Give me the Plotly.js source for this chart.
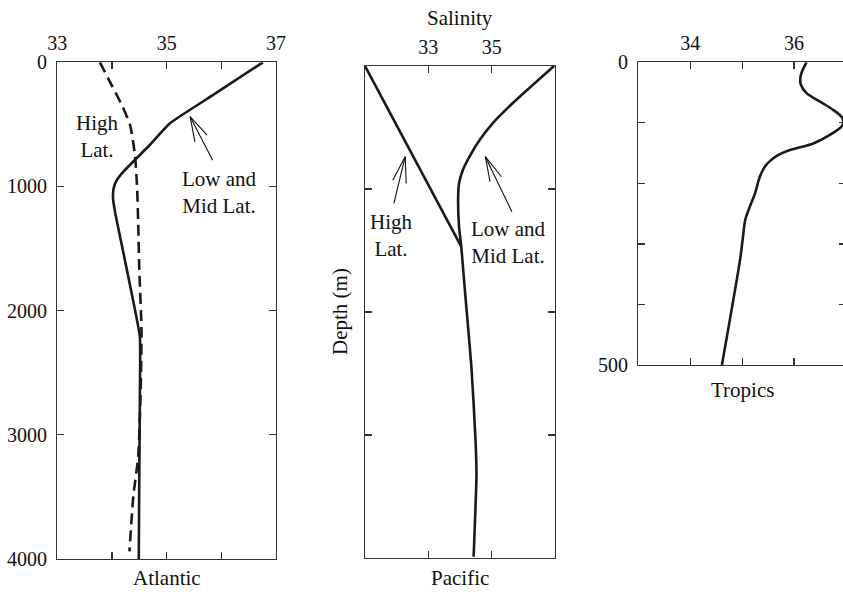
<!DOCTYPE html>
<html><head><meta charset="utf-8">
<script src="https://cdn.plot.ly/plotly-3.0.1.min.js"></script>
<style>html,body{margin:0;padding:0;overflow:hidden;background:#fff}#chart{width:850px;height:592px}</style>
</head><body><div id="chart"></div>
<script>
// Atlantic, low and mid latitudes (solid)
const atlLowDepth = [0, 263, 491, 666, 880, 947, 1014, 1100, 1215, 1430, 1859, 2208, 2718, 3300, 4000];
const atlLowSal   = [36.76, 35.85, 35.06, 34.69, 34.21, 34.09, 34.03, 34.02, 34.06, 34.16, 34.36, 34.51, 34.51, 34.50, 34.49];
// Atlantic, high latitudes (dashed)
const atlHighDepth = [0, 156, 344, 505, 746, 1014, 1300, 1672, 2155, 2718, 3174, 3496, 3939];
const atlHighSal   = [33.78, 33.96, 34.18, 34.33, 34.42, 34.46, 34.48, 34.50, 34.54, 34.52, 34.48, 34.39, 34.32];
// Pacific, high latitudes
const pacHighDepth = [0, 1469];
const pacHighSal   = [31.0, 34.04];
// Pacific, low and mid latitudes
const pacLowDepth = [0, 303, 466, 602, 737, 846, 954, 1089, 1306, 1469, 1902, 2445, 3041, 3312, 3990];
const pacLowSal   = [36.97, 35.66, 35.03, 34.62, 34.30, 34.09, 33.97, 33.94, 33.97, 34.04, 34.18, 34.36, 34.49, 34.52, 34.43];
// Tropics
const tropDepth = [0, 21, 37, 51, 65, 79, 92, 104, 120, 134, 145, 153, 162, 172, 189, 216, 238, 260, 293, 326, 500];
const tropSal   = [36.24, 36.13, 36.13, 36.24, 36.50, 36.76, 36.93, 36.93, 36.69, 36.37, 35.92, 35.70, 35.55, 35.44, 35.34, 35.25, 35.15, 35.06, 35.01, 34.96, 34.61];

// tick labels
const atlXTicks = [33, 34, 35, 36, 37];
const atlXText  = ['33', '', '35', '', '37'];
const atlYTicks = [0, 1000, 2000, 3000, 4000];
const atlYText  = ['0', '1000', '2000', '3000', '4000'];
const pacXTicks = [33, 35];
const pacXText  = ['33', '35'];
const pacYTicks = [1000, 2000, 3000];
const tropXTicks = [34, 35, 36];
const tropXText  = ['34', '', '36'];
const tropYTicks = [0, 100, 200, 300, 400, 500];
const tropYText  = ['0', '', '', '', '', '500'];

const FONT = '"Liberation Serif", "DejaVu Serif", serif';
const lineStyle = {color: '#1a1a1a', width: 2.6, shape: 'spline', smoothing: 0.6};

const traces = [
  {x: atlLowSal, y: atlLowDepth, xaxis: 'x', yaxis: 'y', mode: 'lines', line: Object.assign({}, lineStyle, {smoothing: 0.4})},
  {x: atlHighSal, y: atlHighDepth, xaxis: 'x', yaxis: 'y', mode: 'lines', line: Object.assign({}, lineStyle, {dash: '11px,6px'})},
  {x: pacHighSal, y: pacHighDepth, xaxis: 'x2', yaxis: 'y2', mode: 'lines', line: Object.assign({}, lineStyle, {shape: 'linear'})},
  {x: pacLowSal, y: pacLowDepth, xaxis: 'x2', yaxis: 'y2', mode: 'lines', line: lineStyle},
  {x: tropSal, y: tropDepth, xaxis: 'x3', yaxis: 'y3', mode: 'lines', line: Object.assign({}, lineStyle, {smoothing: 0.9})}
];

const W = 850, H = 592;
const axBase = {
  showgrid: false, zeroline: false, showline: true, mirror: 'ticks',
  linecolor: '#333', linewidth: 1.2, ticks: 'inside', ticklen: 7, tickwidth: 1.2, tickcolor: '#333',
  tickfont: {family: FONT, size: 20, color: '#111'}, tickmode: 'array', fixedrange: true
};
function ax(o) { return Object.assign({}, axBase, o); }

const layout = {
  width: W, height: H, margin: {l: 0, r: 0, t: 0, b: 0},
  paper_bgcolor: '#fff', plot_bgcolor: '#fff', showlegend: false,
  font: {family: FONT, size: 20, color: '#111'},
  xaxis: ax({domain: [57.3/W, 276/W], range: [33, 37], side: 'top', tickvals: atlXTicks, ticktext: atlXText, anchor: 'y', ticklabelstandoff: 3}),
  yaxis: ax({domain: [1-559/H, 1-62.3/H], range: [4000, 0], tickvals: atlYTicks, ticktext: atlYText, anchor: 'x', ticklabelstandoff: 5}),
  xaxis2: ax({domain: [365/W, 555/W], range: [31, 37], side: 'top', tickvals: pacXTicks, ticktext: pacXText, anchor: 'y2', ticklabelstandoff: 3}),
  yaxis2: ax({domain: [1-558/H, 1-66/H], range: [4000, 0], tickvals: pacYTicks, showticklabels: false, anchor: 'x2'}),
  xaxis3: ax({domain: [638.3/W, 846/W], range: [33, 37], side: 'top', tickvals: tropXTicks, ticktext: tropXText, anchor: 'y3', ticklabelstandoff: 3}),
  yaxis3: ax({domain: [1-365/H, 1-62.3/H], range: [500, 0], tickvals: tropYTicks, ticktext: tropYText, anchor: 'x3', ticklabelstandoff: 5}),
  annotations: []
};

const A = layout.annotations;
function txt(xref, yref, x, y, text, extra) {
  A.push(Object.assign({xref: xref, yref: yref, x: x, y: y, text: text, showarrow: false,
    font: {family: FONT, size: 21, color: '#111'}, align: 'center', xanchor: 'center', yanchor: 'middle'}, extra || {}));
}
function arrow(xref, yref, x, y, tail, arms) {
  [tail].concat(arms).forEach(function (p) {
    A.push({xref: xref, yref: yref, x: x, y: y, ax: p[0], ay: p[1], text: '', showarrow: true,
      arrowhead: 0, arrowwidth: 1.1, arrowcolor: '#111', standoff: 0, startstandoff: 0});
  });
}

// panel labels
txt('x', 'y', 33.73, 601, 'High<br>Lat.');
txt('x', 'y', 35.97, 1052, 'Low and<br>Mid Lat.');
arrow('x', 'y', 35.43, 438, [23.3, 45], [[18.3, 20], [5, 26.6]]);
txt('x2', 'y2', 31.83, 1374, 'High<br>Lat.');
txt('x2', 'y2', 35.52, 1431, 'Low and<br>Mid Lat.');
arrow('x2', 'y2', 32.27, 737, [-11.7, 48.3], [[-13.3, 25], [1, 28.3]]);
arrow('x2', 'y2', 34.80, 737, [27.3, 56.6], [[17.3, 21.6], [5, 26.6]]);

txt('paper', 'paper', 166.7/W, 1-577.5/H, 'Atlantic', {borderpad: 0});
txt('paper', 'paper', 460/W, 1-577.5/H, 'Pacific', {borderpad: 0});
txt('paper', 'paper', 742/W, 1-390/H, 'Tropics');
txt('paper', 'paper', 460/W, 1-18/H, 'Salinity');
txt('paper', 'paper', 340/W, 1-312/H, 'Depth (m)', {textangle: -90});

Plotly.newPlot('chart', traces, layout, {staticPlot: true, displayModeBar: false});
</script>
</body></html>
